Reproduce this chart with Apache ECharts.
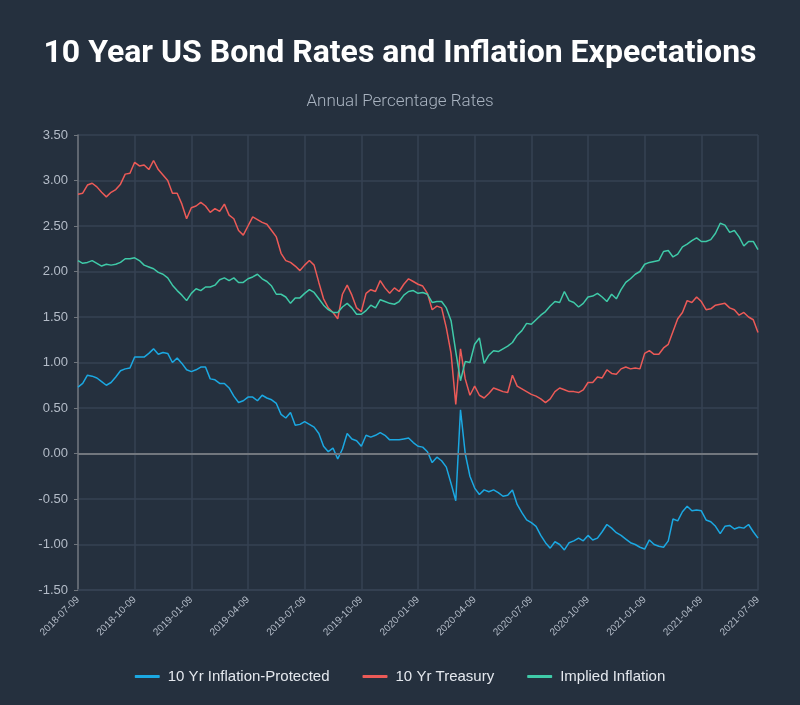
<!DOCTYPE html>
<html>
<head>
<meta charset="utf-8">
<script src="https://cdn.jsdelivr.net/npm/echarts@6/dist/echarts.min.js"></script>
<style>
  html, body { margin: 0; padding: 0; background: #25303e; }
  #chart { width: 800px; height: 705px; }
</style>
</head>
<body>
<div id="chart"></div>
<script>
var bondChart = echarts.init(document.getElementById('chart'));

// quarterly labels shown on the x axis
var tickLabels = ['2018-07-09', '2018-10-09', '2019-01-09', '2019-04-09', '2019-07-09', '2019-10-09',
    '2020-01-09', '2020-04-09', '2020-07-09', '2020-10-09', '2021-01-09', '2021-04-09', '2021-07-09'];

// sample dates: 9th, 16th, 23rd and the 1st of the following month
function ymd(y, m, d) {
    return y + '-' + (m < 10 ? '0' + m : m) + '-' + (d < 10 ? '0' + d : d);
}
var dates = [];
for (var m = 0; m < 36; m++) {
    var yr = 2018 + Math.floor((6 + m) / 12), mo = (6 + m) % 12 + 1;
    var yr2 = 2018 + Math.floor((7 + m) / 12), mo2 = (7 + m) % 12 + 1;
    dates.push(ymd(yr, mo, 9), ymd(yr, mo, 16), ymd(yr, mo, 23), ymd(yr2, mo2, 1));
}
dates.push('2021-07-09');

var tipsRate = [
    0.73, 0.77, 0.86, 0.85, 0.83, 0.79, 0.75, 0.78, 0.84, 0.91,
    0.93, 0.94, 1.06, 1.06, 1.06, 1.10, 1.15, 1.09, 1.11, 1.10,
    1.00, 1.05, 0.99, 0.92, 0.90, 0.92, 0.95, 0.95, 0.82, 0.81,
    0.77, 0.77, 0.72, 0.63, 0.56, 0.58, 0.62, 0.62, 0.58, 0.64,
    0.61, 0.59, 0.55, 0.43, 0.39, 0.45, 0.31, 0.32, 0.35, 0.32,
    0.29, 0.22, 0.08, 0.02, 0.06, -0.06, 0.05, 0.22, 0.16, 0.14,
    0.08, 0.20, 0.18, 0.20, 0.23, 0.20, 0.15, 0.15, 0.15, 0.16,
    0.17, 0.12, 0.08, 0.07, 0.02, -0.10, -0.04, -0.08, -0.15, -0.33,
    -0.52, 0.48, 0.00, -0.25, -0.38, -0.45, -0.40, -0.42, -0.40, -0.43,
    -0.47, -0.46, -0.40, -0.56, -0.65, -0.73, -0.76, -0.80, -0.90, -0.98,
    -1.04, -0.97, -1.00, -1.06, -0.98, -0.96, -0.93, -0.96, -0.90, -0.95,
    -0.93, -0.86, -0.78, -0.82, -0.87, -0.90, -0.94, -0.98, -1.00, -1.03,
    -1.05, -0.95, -1.00, -1.02, -1.03, -0.96, -0.72, -0.74, -0.64, -0.58,
    -0.63, -0.62, -0.63, -0.73, -0.75, -0.80, -0.88, -0.80, -0.79, -0.83,
    -0.81, -0.82, -0.78, -0.86, -0.93
];

var treasuryRate = [
    2.85, 2.86, 2.95, 2.97, 2.93, 2.87, 2.82, 2.87, 2.90, 2.96,
    3.07, 3.08, 3.20, 3.16, 3.17, 3.12, 3.22, 3.12, 3.06, 3.00,
    2.86, 2.86, 2.74, 2.58, 2.70, 2.72, 2.76, 2.72, 2.65, 2.69,
    2.66, 2.74, 2.62, 2.58, 2.45, 2.40, 2.50, 2.60, 2.57, 2.54,
    2.52, 2.45, 2.38, 2.20, 2.12, 2.10, 2.06, 2.01, 2.07, 2.12,
    2.07, 1.88, 1.70, 1.60, 1.55, 1.48, 1.75, 1.85, 1.74, 1.60,
    1.56, 1.76, 1.80, 1.78, 1.90, 1.82, 1.76, 1.82, 1.78, 1.86,
    1.92, 1.89, 1.86, 1.84, 1.76, 1.58, 1.62, 1.60, 1.38, 1.10,
    0.54, 1.15, 0.82, 0.64, 0.74, 0.64, 0.61, 0.66, 0.72, 0.70,
    0.68, 0.67, 0.86, 0.74, 0.71, 0.68, 0.65, 0.63, 0.60, 0.56,
    0.60, 0.68, 0.72, 0.70, 0.68, 0.68, 0.67, 0.70, 0.78, 0.78,
    0.84, 0.83, 0.92, 0.88, 0.87, 0.93, 0.95, 0.93, 0.94, 0.93,
    1.10, 1.13, 1.09, 1.09, 1.16, 1.20, 1.34, 1.48, 1.55, 1.68,
    1.66, 1.72, 1.67, 1.58, 1.59, 1.63, 1.64, 1.65, 1.60, 1.58,
    1.52, 1.55, 1.50, 1.47, 1.33
];

var impliedInflation = [
    2.12, 2.09, 2.10, 2.12, 2.09, 2.06, 2.08, 2.07, 2.08, 2.10,
    2.14, 2.14, 2.15, 2.12, 2.07, 2.05, 2.03, 1.99, 1.97, 1.93,
    1.85, 1.79, 1.74, 1.68, 1.76, 1.81, 1.79, 1.83, 1.83, 1.85,
    1.91, 1.93, 1.90, 1.93, 1.88, 1.88, 1.92, 1.94, 1.97, 1.92,
    1.89, 1.84, 1.75, 1.75, 1.72, 1.65, 1.71, 1.71, 1.76, 1.80,
    1.77, 1.70, 1.63, 1.58, 1.55, 1.55, 1.61, 1.65, 1.60, 1.53,
    1.53, 1.57, 1.63, 1.60, 1.69, 1.67, 1.65, 1.64, 1.67, 1.74,
    1.78, 1.79, 1.76, 1.77, 1.75, 1.66, 1.67, 1.67, 1.60, 1.46,
    1.12, 0.80, 1.01, 1.00, 1.20, 1.27, 0.99, 1.08, 1.13, 1.12,
    1.15, 1.18, 1.22, 1.30, 1.35, 1.43, 1.42, 1.47, 1.52, 1.56,
    1.62, 1.67, 1.66, 1.78, 1.68, 1.66, 1.61, 1.65, 1.72, 1.73,
    1.76, 1.72, 1.67, 1.75, 1.70, 1.80, 1.88, 1.92, 1.97, 2.00,
    2.08, 2.10, 2.11, 2.12, 2.22, 2.23, 2.16, 2.19, 2.27, 2.30,
    2.34, 2.37, 2.33, 2.33, 2.35, 2.42, 2.53, 2.51, 2.43, 2.45,
    2.38, 2.28, 2.33, 2.33, 2.24
];

function isTick(index, value) {
    return tickLabels.indexOf(value) >= 0;
}

var gridColor = '#364253';
var labelColor = '#b4bcc8';

option = {
    backgroundColor: '#25303e',
    animation: false,
    title: [{
        text: '10 Year US Bond Rates and Inflation Expectations',
        left: 'center',
        top: 33,
        textStyle: {
            color: '#ffffff',
            fontFamily: 'Roboto',
            fontWeight: 'bold',
            fontSize: 32
        }
    }, {
        text: 'Annual Percentage Rates',
        left: 'center',
        top: 88,
        textStyle: {
            color: '#a9b3c0',
            fontFamily: 'Roboto',
            fontWeight: 300,
            fontSize: 17
        }
    }],
    legend: {
        top: 664,
        left: 'center',
        icon: 'roundRect',
        itemWidth: 25,
        itemHeight: 3,
        itemGap: 33,
        textStyle: {
            color: '#e4e8ee',
            fontFamily: 'Liberation Sans',
            fontSize: 15,
            padding: [0, 0, 0, 3]
        },
        data: ['10 Yr Inflation-Protected', '10 Yr Treasury', 'Implied Inflation']
    },
    grid: {
        left: 78,
        right: 42,
        top: 135,
        bottom: 115
    },
    xAxis: {
        type: 'category',
        boundaryGap: false,
        data: dates,
        axisLine: {
            onZero: false,
            lineStyle: { color: gridColor, width: 1.5 }
        },
        axisTick: { show: false },
        axisLabel: {
            interval: isTick,
            rotate: 45,
            color: labelColor,
            fontFamily: 'Liberation Sans',
            fontSize: 10,
            margin: 8
        },
        splitLine: {
            show: true,
            interval: isTick,
            lineStyle: { color: gridColor, width: 1.5 }
        }
    },
    yAxis: {
        type: 'value',
        min: -1.5,
        max: 3.5,
        interval: 0.5,
        axisLine: {
            show: true,
            lineStyle: { color: '#6f757d', width: 1.5 }
        },
        axisTick: {
            show: true,
            length: 4,
            lineStyle: { color: '#6f757d' }
        },
        axisLabel: {
            color: labelColor,
            fontFamily: 'Liberation Sans',
            fontSize: 13,
            margin: 10,
            formatter: function (v) { return v.toFixed(2); }
        },
        splitLine: {
            lineStyle: { color: gridColor, width: 1.5 }
        }
    },
    series: [{
        name: '10 Yr Inflation-Protected',
        type: 'line',
        showSymbol: false,
        color: '#1ba8e2',
        lineStyle: { width: 1.5 },
        data: tipsRate,
        markLine: {
            silent: true,
            symbol: 'none',
            label: { show: false },
            lineStyle: { color: '#72777e', width: 2, type: 'solid' },
            data: [{ yAxis: 0 }]
        }
    }, {
        name: '10 Yr Treasury',
        type: 'line',
        showSymbol: false,
        color: '#ec5a57',
        lineStyle: { width: 1.5 },
        data: treasuryRate
    }, {
        name: 'Implied Inflation',
        type: 'line',
        showSymbol: false,
        color: '#3fcaa8',
        lineStyle: { width: 1.5 },
        data: impliedInflation
    }]
};

bondChart.setOption(option);
</script>
</body>
</html>
